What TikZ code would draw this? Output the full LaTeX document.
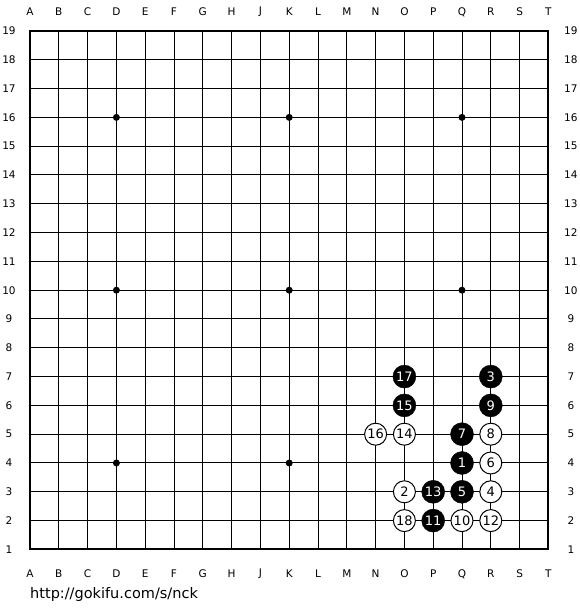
\documentclass[tikz,border=0pt]{standalone}
\usepackage{fontspec}
\setmainfont{DejaVu Sans}
\usetikzlibrary{positioning}

\begin{document}
\begin{tikzpicture}[x=28.8pt,y=28.8pt,
    gridline/.style={line width=1pt},
    edgeline/.style={line width=2pt},
    hoshi/.style={circle,fill=black,inner sep=0pt,minimum size=7pt},
    bstone/.style={circle,draw=black,fill=black,text=white,inner sep=0pt,minimum size=23pt,font=\fontsize{13}{13}\selectfont},
    wstone/.style={circle,draw=black,line width=1pt,fill=white,inner sep=0pt,minimum size=22pt,font=\fontsize{13}{13}\selectfont},
    coordlabel/.style={font=\fontsize{10.5}{10.5}\selectfont}]
    \useasboundingbox (-30pt,-60.6pt) rectangle ++(580pt,610pt);

    \foreach \i in {1,...,17} {
      \draw[gridline] (\i,0) -- (\i,18);
      \draw[gridline] (0,\i) -- (18,\i);
    }
    \draw[edgeline] (0,0) rectangle (18,18);

    \foreach \c [count=\i from 0] in {A,B,C,D,E,F,G,H,J,K,L,M,N,O,P,Q,R,S,T} {
      \node[coordlabel] (top\c) at (\i,18.66) {\c};
      \node[coordlabel] (bot\c) at (\i,-0.85) {\c};
    }
    \foreach \n in {1,...,19} {
      \node[coordlabel] (left\n)  at (-0.73,\n-1) {\n};
      \node[coordlabel] (right\n) at (18.78,\n-1) {\n};
    }

    \foreach \x in {3,9,15}
      \foreach \y in {3,9,15}
        \node[hoshi] (hoshi\x-\y) at (\x,\y) {};

    % black moves
    \foreach \n/\x/\y in {1/15/3, 3/16/6, 5/15/2, 7/15/4, 9/16/5, 11/14/1, 13/14/2, 15/13/5, 17/13/6}
      \node[bstone] (move\n) at (\x,\y) {\n};
    % white moves
    \foreach \n/\x/\y in {2/13/2, 4/16/2, 6/16/3, 8/16/4, 10/15/1, 12/16/1, 14/13/4, 16/12/4, 18/13/1}
      \node[wstone] (move\n) at (\x,\y) {\n};

    \node[anchor=west,inner sep=0pt,font=\fontsize{14.5}{14.5}\selectfont] (url) at (0,-1.58) {http://gokifu.com/s/nck};
\end{tikzpicture}
\end{document}
